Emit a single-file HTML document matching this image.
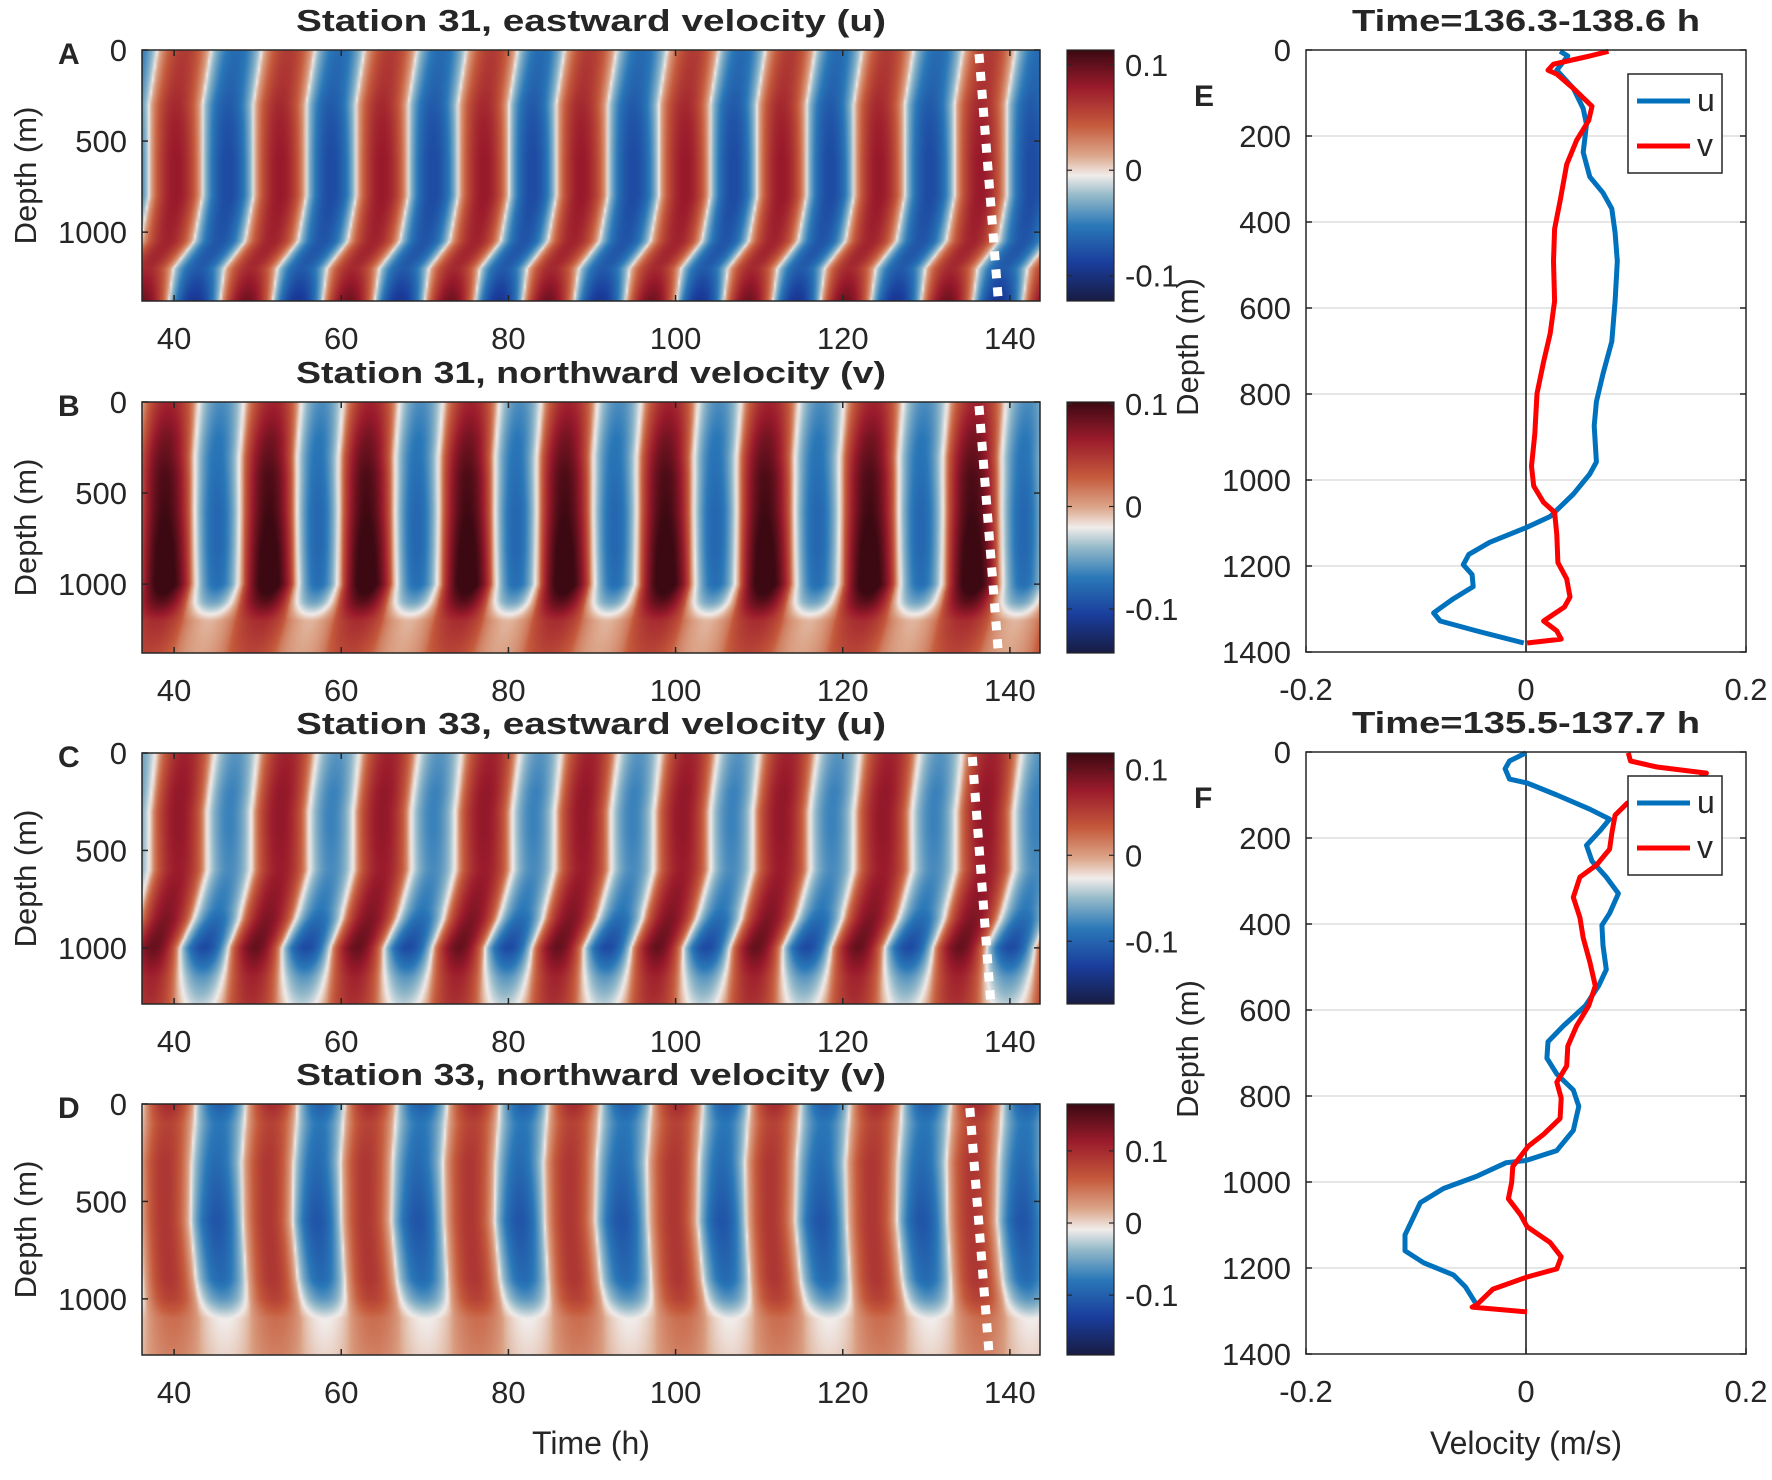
<!DOCTYPE html>
<html><head><meta charset="utf-8">
<style>
html,body{margin:0;padding:0;background:#fff;}
#wrap{position:relative;width:1772px;height:1480px;overflow:hidden;background:#fff;}
canvas{position:absolute;}
svg{position:absolute;left:0;top:0;}
text{font-family:"Liberation Sans",Arial,sans-serif;fill:#262626;}
</style></head>
<body>
<div id="wrap">
<canvas id="cvA"></canvas>
<canvas id="cvB"></canvas>
<canvas id="cvC"></canvas>
<canvas id="cvD"></canvas>
<svg id="svg" width="1772" height="1480" viewBox="0 0 1772 1480"></svg>
</div>
<script>
// ---------- DATA ----------
const timeTicks = [40, 60, 80, 100, 120, 140];
const depthTicksHM = [0, 500, 1000];
const cbTicks = [-0.1, 0, 0.1];
const titles = ["Station  31, eastward velocity (u)", "Station  31, northward velocity (v)", "Station  33, eastward velocity (u)", "Station  33, northward velocity (v)"];
const letters = ["A", "B", "C", "D"];
const timeRange = [36.16, 143.6];
const depthMax = [1378, 1378, 1288, 1288];
const climA = [-0.124, 0.114];
const climB = [-0.143, 0.102];
const climC = [-0.173, 0.119];
const climD = [-0.183, 0.165];
// red-peak times (h)
const peaksA = [40.2, 52.7, 64.9, 77.1, 88.7, 101.2, 112.7, 124.3, 136.5];
const peaksB = [38.9, 51.4, 63.0, 75.1, 86.7, 98.8, 110.7, 123.2, 135.5];
const peaksC = [40.5, 52.7, 64.9, 77.1, 88.9, 100.8, 112.6, 124.8, 137.0];
const peaksD = [38.9, 51.3, 62.9, 75.4, 87.3, 99.8, 111.3, 123.5, 135.5];
// phase shift (h) vs depth
const tiltDepthA = [0, 300, 800, 1050, 1200, 1378];
const tiltHoursA = [1, 0, 0, -1, -3.5, -4];
const tiltDepthB = [0, 300, 800, 1000, 1200, 1378];
const tiltHoursB = [0.5, 0, 0, 0, -1, -2];
const tiltDepthC = [0, 300, 600, 850, 1000, 1288];
const tiltHoursC = [0.8, 0, 0, -1.5, -3, -3.5];
const tiltDepthD = [0, 300, 600, 900, 1100, 1288];
const tiltHoursD = [0.5, 0, 0, 0.5, 1, 1];
// amplitude / bias profiles vs depth (m/s)
const ampDepthA = [0, 200, 400, 600, 800, 1000, 1200, 1378];
const ampA = [0.06, 0.065, 0.075, 0.08, 0.08, 0.075, 0.07, 0.095];
const biasA = [0, 0, 0, 0, 0, 0, 0, 0];
const ampDepthB = [0, 200, 400, 600, 800, 1000, 1100, 1200, 1378];
const ampB = [0.06, 0.075, 0.085, 0.09, 0.095, 0.095, 0.07, 0.03, 0.02];
const biasB = [0, 0.005, 0.01, 0.01, 0.015, 0.02, 0.02, 0.025, 0.02];
const ampDepthC = [0, 200, 400, 600, 800, 1000, 1150, 1288];
const ampC = [0.07, 0.08, 0.08, 0.075, 0.085, 0.11, 0.07, 0.05];
const biasC = [0, 0, 0, 0, 0, -0.01, 0, 0.01];
const ampDepthD = [0, 100, 300, 600, 900, 1000, 1100, 1288];
const ampD = [0.1, 0.08, 0.09, 0.1, 0.09, 0.07, 0.03, 0.02];
const biasD = [0, 0, 0, -0.01, 0, 0.01, 0.02, 0.02];
// profile time windows (dotted lines)
const windowA = [136.3, 138.6];
const windowB = [136.3, 138.6];
const windowC = [135.5, 137.7];
const windowD = [135.2, 137.5];
// colormap (balance)
const cmapPos = [0, 0.15, 0.3, 0.42, 0.5, 0.58, 0.7, 0.85, 1];
const cmapCol = ["#181c43", "#1a3d9c", "#2a78b8", "#94b9c9", "#f1ecea", "#dca68a", "#c55a3c", "#9b1b2c", "#3c0912"];
// profiles E
const profTicksX = [-0.2, 0, 0.2];
const profTickLabelsX = ["-0.2", "0", "0.2"];
const profTicksY = [0, 200, 400, 600, 800, 1000, 1200, 1400];
const titleE = "Time=136.3-138.6 h";
const titleF = "Time=135.5-137.7 h";
const E_u_depth = [3, 14, 47, 89, 136, 173, 238, 295, 332, 369, 425, 491, 584, 678, 753, 818, 874, 958, 986, 1033, 1085, 1111, 1145, 1173, 1197, 1220, 1248, 1276, 1309, 1328, 1351, 1379];
const E_u_vel = [0.031, 0.038, 0.028, 0.043, 0.052, 0.055, 0.052, 0.058, 0.070, 0.078, 0.081, 0.083, 0.081, 0.078, 0.070, 0.064, 0.062, 0.064, 0.058, 0.043, 0.022, 0, -0.033, -0.052, -0.057, -0.049, -0.048, -0.066, -0.084, -0.078, -0.045, -0.002];
const E_v_depth = [3, 14, 33, 47, 56, 89, 131, 164, 210, 266, 351, 416, 491, 584, 659, 725, 799, 893, 968, 1014, 1052, 1075, 1127, 1192, 1230, 1272, 1295, 1328, 1351, 1370, 1379];
const E_v_vel = [0.075, 0.058, 0.025, 0.020, 0.028, 0.043, 0.060, 0.057, 0.046, 0.037, 0.031, 0.026, 0.025, 0.026, 0.022, 0.016, 0.010, 0.008, 0.005, 0.007, 0.016, 0.026, 0.028, 0.029, 0.037, 0.040, 0.035, 0.016, 0.028, 0.032, 0.001];
const F_u_depth = [2, 21, 39, 63, 72, 100, 133, 156, 184, 217, 254, 291, 329, 375, 403, 450, 506, 544, 590, 637, 674, 712, 749, 786, 824, 880, 927, 950, 955, 987, 1015, 1048, 1123, 1160, 1188, 1216, 1244, 1281];
const F_u_vel = [0, -0.015, -0.019, -0.015, 0.001, 0.028, 0.058, 0.076, 0.067, 0.055, 0.060, 0.073, 0.084, 0.076, 0.069, 0.070, 0.073, 0.066, 0.054, 0.034, 0.020, 0.019, 0.028, 0.043, 0.048, 0.043, 0.028, 0, -0.018, -0.045, -0.075, -0.096, -0.110, -0.110, -0.093, -0.066, -0.055, -0.046];
const F_v_depth = [2, 21, 35, 49, 77, 119, 147, 189, 226, 263, 291, 338, 385, 432, 488, 544, 590, 637, 684, 730, 768, 805, 852, 889, 917, 964, 1001, 1039, 1076, 1104, 1141, 1174, 1202, 1221, 1249, 1286, 1291, 1302];
const F_v_vel = [0.093, 0.095, 0.119, 0.164, 0.149, 0.092, 0.081, 0.078, 0.076, 0.064, 0.049, 0.043, 0.049, 0.052, 0.058, 0.063, 0.057, 0.046, 0.038, 0.037, 0.028, 0.032, 0.031, 0.016, 0.002, -0.012, -0.013, -0.016, -0.005, 0.001, 0.022, 0.032, 0.028, 0.001, -0.030, -0.045, -0.049, 0.001];

// ---------- LAYOUT ----------
const HM_X0 = 142, HM_X1 = 1040, HM_H = 251;
const HM_TOPS = [50, 402, 753, 1104];
const CB_X0 = 1067, CB_X1 = 1114;
const PR_X0 = 1306, PR_X1 = 1746;
const PR_TOPS = [50, 752], PR_BOT = [652, 1354];
const NS = "http://www.w3.org/2000/svg";
const svg = document.getElementById('svg');

function interp(xs, ys, x) {
  if (x <= xs[0]) return ys[0];
  for (let i = 1; i < xs.length; i++) if (x <= xs[i]) { const f = (x - xs[i-1]) / (xs[i] - xs[i-1]); return ys[i-1] + f * (ys[i] - ys[i-1]); }
  return ys[ys.length - 1];
}
function hex(c) { return [parseInt(c.slice(1,3),16), parseInt(c.slice(3,5),16), parseInt(c.slice(5,7),16)]; }
const cmapRGB = cmapCol.map(hex);
function cmap(f) {
  f = Math.max(0, Math.min(1, f));
  for (let i = 1; i < cmapPos.length; i++) if (f <= cmapPos[i]) {
    const g = (f - cmapPos[i-1]) / (cmapPos[i] - cmapPos[i-1]);
    return [0,1,2].map(k => Math.round(cmapRGB[i-1][k] + g * (cmapRGB[i][k] - cmapRGB[i-1][k])));
  }
  return cmapRGB[cmapRGB.length-1];
}
function phaseAt(P, t) {
  const n = P.length;
  if (t < P[0]) { const per = P[1] - P[0]; return 2 * Math.PI * (t - P[0]) / per; }
  if (t >= P[n-1]) { const per = P[n-1] - P[n-2]; return 2 * Math.PI * ((n - 1) + (t - P[n-1]) / per); }
  for (let k = 0; k < n - 1; k++) if (t < P[k+1]) return 2 * Math.PI * (k + (t - P[k]) / (P[k+1] - P[k]));
  return 0;
}
function el(tag, attrs, parent) {
  const e = document.createElementNS(NS, tag);
  for (const k in attrs) e.setAttribute(k, attrs[k]);
  (parent || svg).appendChild(e);
  return e;
}
function txt(s, attrs, parent) { const e = el('text', attrs, parent); e.textContent = s; return e; }

const panels = [
  {cv: 'cvA', peaks: peaksA, tz: tiltDepthA, th: tiltHoursA, az: ampDepthA, amp: ampA, bias: biasA, clim: climA, win: windowA},
  {cv: 'cvB', peaks: peaksB, tz: tiltDepthB, th: tiltHoursB, az: ampDepthB, amp: ampB, bias: biasB, clim: climB, win: windowB},
  {cv: 'cvC', peaks: peaksC, tz: tiltDepthC, th: tiltHoursC, az: ampDepthC, amp: ampC, bias: biasC, clim: climC, win: windowC},
  {cv: 'cvD', peaks: peaksD, tz: tiltDepthD, th: tiltHoursD, az: ampDepthD, amp: ampD, bias: biasD, clim: climD, win: windowD}
];

// gradient for colorbars
const defs = el('defs', {});
const grad = el('linearGradient', {id: 'cbgrad', x1: '0', y1: '1', x2: '0', y2: '0'}, defs);
for (let i = 0; i < cmapPos.length; i++) el('stop', {offset: cmapPos[i], 'stop-color': cmapCol[i]}, grad);

panels.forEach((p, pi) => {
  const top = HM_TOPS[pi], zmax = depthMax[pi];
  const xS = t => HM_X0 + (t - timeRange[0]) / (timeRange[1] - timeRange[0]) * (HM_X1 - HM_X0);
  const yS = z => top + z / zmax * HM_H;
  // canvas heatmap
  const cv = document.getElementById(p.cv);
  const W = 449, H = 126;
  cv.width = W; cv.height = H;
  cv.style.left = HM_X0 + 'px'; cv.style.top = top + 'px';
  cv.style.width = (HM_X1 - HM_X0) + 'px'; cv.style.height = HM_H + 'px';
  const ctx = cv.getContext('2d');
  const img = ctx.createImageData(W, H);
  for (let j = 0; j < H; j++) {
    const z = (j + 0.5) / H * zmax;
    const sh = interp(p.tz, p.th, z), a = interp(p.az, p.amp, z), b = interp(p.az, p.bias, z);
    for (let i = 0; i < W; i++) {
      const t = timeRange[0] + (i + 0.5) / W * (timeRange[1] - timeRange[0]);
      let c = Math.cos(phaseAt(p.peaks, t - sh));
      c = Math.sign(c) * Math.pow(Math.abs(c), 0.75);
      const v = b + a * c;
      const rgb = cmap((v - p.clim[0]) / (p.clim[1] - p.clim[0]));
      const o = (j * W + i) * 4;
      img.data[o] = rgb[0]; img.data[o+1] = rgb[1]; img.data[o+2] = rgb[2]; img.data[o+3] = 255;
    }
  }
  ctx.putImageData(img, 0, 0);

  const g = el('g', {});
  
  
  // dotted window line
  const dl = el('line', {x1: xS(p.win[0]), y1: top + 4, x2: xS(p.win[1]), y2: top + HM_H - 2, stroke: '#ffffff', 'stroke-width': 9, 'stroke-dasharray': '9 9'}, g);
  
  
  // axes box
  const box = el('rect', {x: HM_X0, y: top, width: HM_X1 - HM_X0, height: HM_H, fill: 'none', stroke: '#262626', 'stroke-width': 1.5}, g);
  
  
  // x ticks
  timeTicks.forEach(t => {
    const x = xS(t);
    el('line', {x1: x, y1: top + HM_H, x2: x, y2: top + HM_H - 6, stroke: '#262626', 'stroke-width': 1.5}, g);
    el('line', {x1: x, y1: top, x2: x, y2: top + 6, stroke: '#262626', 'stroke-width': 1.5}, g);
    const tl = txt(String(t), {x: x, y: top + HM_H + 48, 'font-size': 31, 'text-anchor': 'middle'}, g);
    
    
  });
  depthTicksHM.forEach(d => {
    const y = yS(d);
    el('line', {x1: HM_X0, y1: y, x2: HM_X0 + 6, y2: y, stroke: '#262626', 'stroke-width': 1.5}, g);
    el('line', {x1: HM_X1, y1: y, x2: HM_X1 - 6, y2: y, stroke: '#262626', 'stroke-width': 1.5}, g);
    const yl = txt(String(d), {x: 127, y: y + 11, 'font-size': 31, 'text-anchor': 'end'}, g);
    
    
  });
  const yt = txt('Depth (m)', {x: 0, y: 0, 'font-size': 31, 'text-anchor': 'middle', transform: `translate(36,${top + HM_H/2}) rotate(-90)`}, g);
  
  
  const tt = txt(titles[pi], {x: (HM_X0 + HM_X1) / 2, y: top - 19, 'font-size': 31, 'font-weight': 'bold', 'text-anchor': 'middle', fill: '#000', textLength: 590, lengthAdjust: 'spacingAndGlyphs'}, g);
  
  
  const lt = txt(letters[pi], {x: 58, y: top + 14, 'font-size': 30, 'font-weight': 'bold', fill: '#000'}, g);
  
  
  // colorbar
  const cb = el('rect', {x: CB_X0, y: top, width: CB_X1 - CB_X0, height: HM_H, fill: 'url(#cbgrad)', stroke: '#262626', 'stroke-width': 1.2}, g);
  
  
  cbTicks.forEach(v => {
    const y = top + HM_H - (v - p.clim[0]) / (p.clim[1] - p.clim[0]) * HM_H;
    el('line', {x1: CB_X1, y1: y, x2: CB_X1 - 5, y2: y, stroke: '#262626', 'stroke-width': 1.2}, g);
    el('line', {x1: CB_X0, y1: y, x2: CB_X0 + 5, y2: y, stroke: '#262626', 'stroke-width': 1.2}, g);
    const cl = txt(v === 0 ? '0' : String(v), {x: 1125, y: y + 11, 'font-size': 31}, g);
    
    
  });
});
const xt = txt('Time (h)', {x: 591, y: 1454, 'font-size': 32, 'text-anchor': 'middle'});



// ---------- PROFILES ----------
const profs = [
  {ud: E_u_depth, uv: E_u_vel, vd: E_v_depth, vv: E_v_vel, title: titleE, letter: 'E'},
  {ud: F_u_depth, uv: F_u_vel, vd: F_v_depth, vv: F_v_vel, title: titleF, letter: 'F'}
];
profs.forEach((p, k) => {
  const top = PR_TOPS[k], bot = PR_BOT[k];
  const xS = v => PR_X0 + (v + 0.2) / 0.4 * (PR_X1 - PR_X0);
  const yS = d => top + d / 1400 * (bot - top);
  const g = el('g', {});
  
  
  el('rect', {x: PR_X0, y: top, width: PR_X1 - PR_X0, height: bot - top, fill: '#fff'}, g);
  profTicksY.forEach(d => {
    const y = yS(d);
    if (d > 0 && d < 1400) {
      const gl = el('line', {x1: PR_X0, y1: y, x2: PR_X1, y2: y, stroke: '#dedede', 'stroke-width': 1.5}, g);
      
      
    }
    el('line', {x1: PR_X0, y1: y, x2: PR_X0 + 6, y2: y, stroke: '#262626', 'stroke-width': 1.5}, g);
    el('line', {x1: PR_X1, y1: y, x2: PR_X1 - 6, y2: y, stroke: '#262626', 'stroke-width': 1.5}, g);
    const yl = txt(String(d), {x: 1291, y: y + 11, 'font-size': 31, 'text-anchor': 'end'}, g);
    
    
  });
  profTicksX.forEach((v, i) => {
    const x = xS(v);
    el('line', {x1: x, y1: bot, x2: x, y2: bot - 6, stroke: '#262626', 'stroke-width': 1.5}, g);
    const xl = txt(profTickLabelsX[i], {x: x, y: bot + 48, 'font-size': 31, 'text-anchor': 'middle'}, g);
    
    
  });
  const zl = el('line', {x1: xS(0), y1: top, x2: xS(0), y2: bot, stroke: '#3a3a3a', 'stroke-width': 1.8}, g);
  
  
  const mk = (ds, vs) => ds.map((d, i) => (i ? 'L' : 'M') + xS(vs[i]).toFixed(1) + ',' + yS(d).toFixed(1)).join('');
  const cu = el('path', {d: mk(p.ud, p.uv), fill: 'none', stroke: '#0072BD', 'stroke-width': 5, 'stroke-linejoin': 'round'}, g);
  
  
  const cvv = el('path', {d: mk(p.vd, p.vv), fill: 'none', stroke: '#FF0000', 'stroke-width': 5, 'stroke-linejoin': 'round'}, g);
  
  
  const bx = el('rect', {x: PR_X0, y: top, width: PR_X1 - PR_X0, height: bot - top, fill: 'none', stroke: '#262626', 'stroke-width': 1.5}, g);
  
  
  // legend
  const lg = el('g', {}, g);
  
  
  const ly = top + 24;
  el('rect', {x: 1628, y: ly, width: 94, height: 99, fill: '#fff', stroke: '#262626', 'stroke-width': 1.5}, lg);
  el('line', {x1: 1637, y1: ly + 27, x2: 1690, y2: ly + 27, stroke: '#0072BD', 'stroke-width': 5}, lg);
  el('line', {x1: 1637, y1: ly + 72, x2: 1690, y2: ly + 72, stroke: '#FF0000', 'stroke-width': 5}, lg);
  const l1 = txt('u', {x: 1697, y: ly + 37, 'font-size': 32, fill: '#000'}, lg);
  
  
  const l2 = txt('v', {x: 1697, y: ly + 82, 'font-size': 32, fill: '#000'}, lg);
  
  
  const ti = txt(p.title, {x: (PR_X0 + PR_X1) / 2, y: top - 19, 'font-size': 31, 'font-weight': 'bold', 'text-anchor': 'middle', fill: '#000', textLength: 348, lengthAdjust: 'spacingAndGlyphs'}, g);
  
  
  const le = txt(p.letter, {x: 1194, y: top + 56, 'font-size': 30, 'font-weight': 'bold', fill: '#000'}, g);
  
  
  const yt = txt('Depth (m)', {x: 0, y: 0, 'font-size': 31, 'text-anchor': 'middle', transform: `translate(1198,${(top + bot) / 2 - 4}) rotate(-90)`}, g);
  
  
});
const vt = txt('Velocity (m/s)', {x: 1526, y: 1454, 'font-size': 32, 'text-anchor': 'middle'});


</script>
</body></html>
